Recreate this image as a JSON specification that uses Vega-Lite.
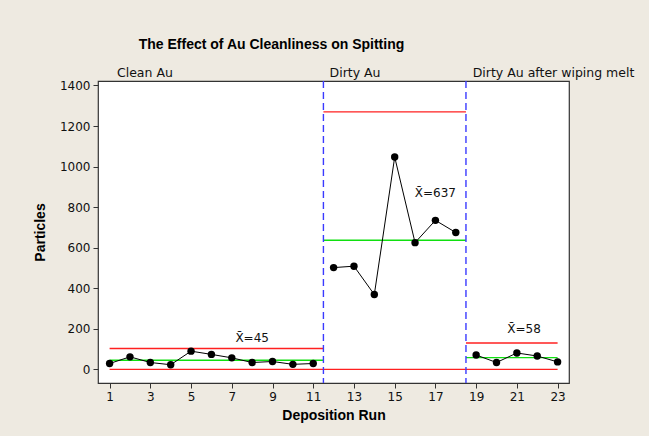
{
  "$schema": "https://vega.github.io/schema/vega-lite/v6.json",
  "width": 471,
  "height": 302,
  "autosize": {"type": "none"},
  "padding": {"left": 98, "top": 81, "right": 80, "bottom": 53},
  "background": "#EEEAE1",
  "config": {
    "view": {"fill": "white", "stroke": "#333333", "strokeWidth": 1.2},
    "font": "DejaVu Sans",
    "axis": {"grid": false, "domain": false, "tickSize": 5, "tickColor": "#333333", "labelFontSize": 12, "labelColor": "#111111", "labelFont": "DejaVu Sans", "titleFont": "Liberation Sans", "titleFontSize": 14, "titleFontWeight": "bold", "titleColor": "#000000"}
  },
  "title": {"text": "The Effect of Au Cleanliness on Spitting", "font": "Liberation Sans", "fontSize": 14, "fontWeight": "bold", "frame": "group", "anchor": "middle", "dx": -62, "offset": 15, "color": "#000000"},
  "datasets": {
    "pts": [
      {"run": 1, "particles": 29, "seg": "Clean Au"},
      {"run": 2, "particles": 62, "seg": "Clean Au"},
      {"run": 3, "particles": 34, "seg": "Clean Au"},
      {"run": 4, "particles": 23, "seg": "Clean Au"},
      {"run": 5, "particles": 90, "seg": "Clean Au"},
      {"run": 6, "particles": 74, "seg": "Clean Au"},
      {"run": 7, "particles": 57, "seg": "Clean Au"},
      {"run": 8, "particles": 34, "seg": "Clean Au"},
      {"run": 9, "particles": 39, "seg": "Clean Au"},
      {"run": 10, "particles": 25, "seg": "Clean Au"},
      {"run": 11, "particles": 29, "seg": "Clean Au"},
      {"run": 12, "particles": 502, "seg": "Dirty Au"},
      {"run": 13, "particles": 509, "seg": "Dirty Au"},
      {"run": 14, "particles": 369, "seg": "Dirty Au"},
      {"run": 15, "particles": 1047, "seg": "Dirty Au"},
      {"run": 16, "particles": 625, "seg": "Dirty Au"},
      {"run": 17, "particles": 735, "seg": "Dirty Au"},
      {"run": 18, "particles": 675, "seg": "Dirty Au"},
      {"run": 19, "particles": 71, "seg": "Wiped"},
      {"run": 20, "particles": 34, "seg": "Wiped"},
      {"run": 21, "particles": 81, "seg": "Wiped"},
      {"run": 22, "particles": 66, "seg": "Wiped"},
      {"run": 23, "particles": 37, "seg": "Wiped"}
    ],
    "limits": [
      {"x1": 1, "x2": 11.5, "y": 103, "kind": "UCL"},
      {"x1": 1, "x2": 11.5, "y": 45, "kind": "CL"},
      {"x1": 11.5, "x2": 18.5, "y": 1270, "kind": "UCL"},
      {"x1": 11.5, "x2": 18.5, "y": 637, "kind": "CL"},
      {"x1": 18.5, "x2": 23, "y": 130, "kind": "UCL"},
      {"x1": 18.5, "x2": 23, "y": 58, "kind": "CL"},
      {"x1": 1, "x2": 23, "y": 0, "kind": "LCL"}
    ],
    "splits": [{"x": 11.5}, {"x": 18.5}],
    "means": [
      {"x": 8.0, "y": 134, "label": "X̄=45"},
      {"x": 17.0, "y": 849, "label": "X̄=637"},
      {"x": 21.35, "y": 179, "label": "X̄=58"}
    ],
    "segs": [
      {"x": 1.36, "y": 1440, "label": "Clean Au"},
      {"x": 11.8, "y": 1440, "label": "Dirty Au"},
      {"x": 18.83, "y": 1440, "label": "Dirty Au after wiping melt"}
    ]
  },
  "layer": [
    {
      "data": {"name": "limits"},
      "mark": {"type": "rule", "strokeWidth": 1.4},
      "encoding": {
        "x": {"field": "x1", "type": "quantitative", "scale": {"domain": [0.43, 23.56], "nice": false, "zero": false}, "axis": {"values": [1, 3, 5, 7, 9, 11, 13, 15, 17, 19, 21, 23], "format": "d", "title": "Deposition Run", "labelPadding": 3, "titlePadding": 6}},
        "x2": {"field": "x2"},
        "y": {"field": "y", "type": "quantitative", "scale": {"domain": [-67, 1422], "nice": false, "zero": false}, "axis": {"values": [0, 200, 400, 600, 800, 1000, 1200, 1400], "format": "d", "title": "Particles", "labelPadding": 3, "titlePadding": 12}},
        "color": {"field": "kind", "type": "nominal", "scale": {"domain": ["UCL", "CL", "LCL"], "range": ["#ff2020", "#10e010", "#ff2020"]}, "legend": null}
      }
    },
    {
      "data": {"name": "splits"},
      "mark": {"type": "rule", "strokeDash": [7, 4], "strokeWidth": 1.4, "color": "#3a3aff"},
      "encoding": {"x": {"field": "x", "type": "quantitative"}}
    },
    {
      "data": {"name": "pts"},
      "mark": {"type": "line", "color": "#000000", "strokeWidth": 1},
      "encoding": {
        "x": {"field": "run", "type": "quantitative"},
        "y": {"field": "particles", "type": "quantitative"},
        "detail": {"field": "seg"}
      }
    },
    {
      "data": {"name": "pts"},
      "mark": {"type": "point", "filled": true, "color": "#000000", "size": 55, "opacity": 1},
      "encoding": {
        "x": {"field": "run", "type": "quantitative"},
        "y": {"field": "particles", "type": "quantitative"}
      }
    },
    {
      "data": {"name": "means"},
      "mark": {"type": "text", "fontSize": 12, "color": "#111111", "align": "center", "baseline": "alphabetic", "font": "DejaVu Sans"},
      "encoding": {
        "x": {"field": "x", "type": "quantitative"},
        "y": {"field": "y", "type": "quantitative"},
        "text": {"field": "label"}
      }
    },
    {
      "data": {"name": "segs"},
      "mark": {"type": "text", "fontSize": 12.5, "color": "#111111", "align": "left", "baseline": "alphabetic", "font": "DejaVu Sans"},
      "encoding": {
        "x": {"field": "x", "type": "quantitative"},
        "y": {"field": "y", "type": "quantitative"},
        "text": {"field": "label"}
      }
    }
  ]
}
